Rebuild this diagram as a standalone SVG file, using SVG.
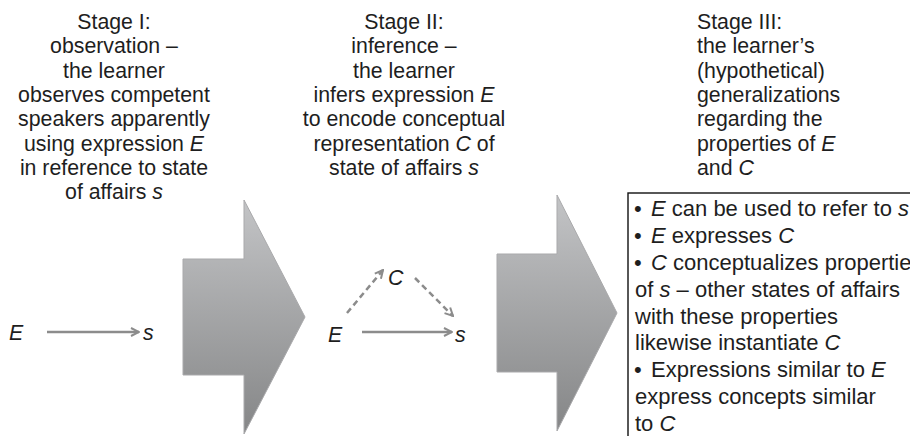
<svg xmlns="http://www.w3.org/2000/svg" width="910" height="436" viewBox="0 0 910 436">
  <style>
    text { font-family: "Liberation Sans", Arial, Helvetica, sans-serif; font-size: 21.3px; fill: #1e1e1e; }
    .mid { text-anchor: middle; }
    .it { font-style: italic; }
    .list text { font-size: 22px; }
    .big-arrow { fill: url(#arrowFill); stroke: #a9a9ab; stroke-width: 1; }
    .link { fill: none; stroke: #8c8c8c; stroke-width: 2.5; }
    .dash { stroke-dasharray: 6 4; }
  </style>
  <defs>
    <linearGradient id="arrowFill" x1="0" y1="0" x2="0" y2="1">
      <stop offset="0" stop-color="#c3c4c6"/>
      <stop offset="1" stop-color="#858687"/>
    </linearGradient>
    <marker id="head" viewBox="0 0 10 10" refX="9" refY="5" markerWidth="4" markerHeight="4" orient="auto" markerUnits="strokeWidth">
      <path d="M1,1 L9,5 L1,9" fill="none" stroke="#8c8c8c" stroke-width="2"/>
    </marker>
  </defs>

  <rect width="910" height="436" fill="#ffffff"/>

  <!-- Stage I caption -->
  <g id="stage1-caption">
    <text class="mid" x="114" y="29">Stage I:</text>
    <text class="mid" x="114" y="53.3">observation –</text>
    <text class="mid" x="114" y="77.6">the learner</text>
    <text class="mid" x="114" y="101.9">observes competent</text>
    <text class="mid" x="114" y="126.2">speakers apparently</text>
    <text class="mid" x="114" y="150.5">using expression <tspan class="it">E</tspan></text>
    <text class="mid" x="114" y="174.8">in reference to state</text>
    <text class="mid" x="114" y="199.1">of affairs <tspan class="it">s</tspan></text>
  </g>

  <!-- Stage II caption -->
  <g id="stage2-caption">
    <text class="mid" x="404" y="29">Stage II:</text>
    <text class="mid" x="404" y="53.3">inference –</text>
    <text class="mid" x="404" y="77.6">the learner</text>
    <text class="mid" x="404" y="101.9">infers expression <tspan class="it">E</tspan></text>
    <text class="mid" x="404" y="126.2">to encode conceptual</text>
    <text class="mid" x="404" y="150.5">representation <tspan class="it">C</tspan> of</text>
    <text class="mid" x="404" y="174.8">state of affairs <tspan class="it">s</tspan></text>
  </g>

  <!-- Stage III caption -->
  <g id="stage3-caption">
    <text x="697" y="29">Stage III:</text>
    <text x="697" y="53.3">the learner’s</text>
    <text x="697" y="77.6">(hypothetical)</text>
    <text x="697" y="101.9">generalizations</text>
    <text x="697" y="126.2">regarding the</text>
    <text x="697" y="150.5">properties of <tspan class="it">E</tspan></text>
    <text x="697" y="174.8">and <tspan class="it">C</tspan></text>
  </g>

  <!-- Transition arrows between stages -->
  <g id="transition-1">
    <path class="big-arrow" d="M183,259 L244,259 L244,200 L305,317 L244,434 L244,375 L183,375 Z"/>
  </g>
  <g id="transition-2">
    <path class="big-arrow" d="M497,254 L557,254 L557,195 L617,313 L557,431 L557,372 L497,372 Z"/>
  </g>

  <!-- Stage I nodes -->
  <g id="s1-E"><text class="it" x="9" y="340">E</text></g>
  <g id="s1-s"><text class="it" x="143" y="340">s</text></g>

  <!-- Stage II nodes -->
  <g id="s2-E"><text class="it" x="328" y="342">E</text></g>
  <g id="s2-C"><text class="it" x="388" y="285">C</text></g>
  <g id="s2-s"><text class="it" x="455" y="342">s</text></g>

  <!-- Connectors -->
  <g id="connectors">
    <line class="link" x1="47" y1="332" x2="139" y2="332" marker-end="url(#head)"/>
    <line class="link" x1="362" y1="332" x2="452" y2="332" marker-end="url(#head)"/>
    <line class="link dash" x1="347" y1="313" x2="383" y2="270" marker-end="url(#head)"/>
    <line class="link dash" x1="415" y1="278" x2="453" y2="316" marker-end="url(#head)"/>
  </g>

  <!-- Stage III generalization list -->
  <g id="generalizations" class="list">
    <rect x="628" y="193" width="300" height="260" fill="none" stroke="#111" stroke-width="1.4"/>
    <text x="634" y="216">•</text><text x="651" y="216"><tspan class="it">E</tspan> can be used to refer to <tspan class="it">s</tspan></text>
    <text x="634" y="243">•</text><text x="651" y="243"><tspan class="it">E</tspan> expresses <tspan class="it">C</tspan></text>
    <text x="634" y="270">•</text><text x="651" y="270"><tspan class="it">C</tspan> conceptualizes properties</text>
    <text x="635" y="297">of <tspan class="it">s</tspan> – other states of affairs</text>
    <text x="635" y="323.5">with these properties</text>
    <text x="635" y="350">likewise instantiate <tspan class="it">C</tspan></text>
    <text x="634" y="377">•</text><text x="651" y="377">Expressions similar to <tspan class="it">E</tspan></text>
    <text x="635" y="404">express concepts similar</text>
    <text x="635" y="431">to <tspan class="it">C</tspan></text>
  </g>
</svg>
